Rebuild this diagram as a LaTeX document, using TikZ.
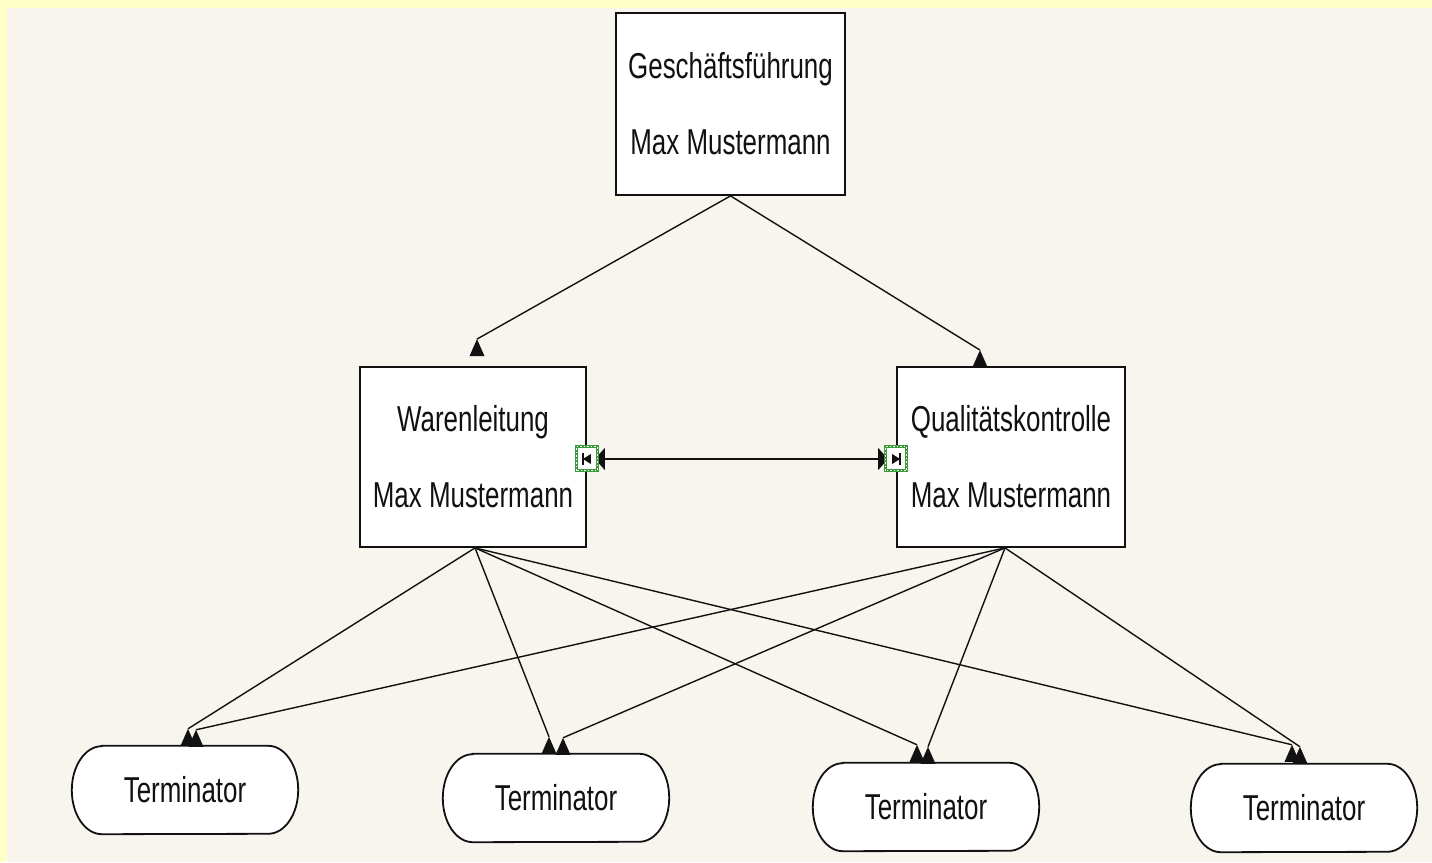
\documentclass[tikz,border=0pt]{standalone}
\usepackage{fontspec}
\setmainfont{Liberation Sans}[FakeStretch=0.72]
\usetikzlibrary{arrows.meta}
\definecolor{frameyellow}{HTML}{FFFFC8}
\definecolor{canvas}{HTML}{F8F5EF}
\definecolor{markgreen}{HTML}{3A9A3A}
\definecolor{ink}{HTML}{111111}
\newcommand\uptip[1]{\fill[ink] (#1) -- ++(-7.5,-17) -- ++(15,0) -- cycle;}
\newcommand\termshape[1]{%
  \draw[termline] ([xshift=30pt]#1.north west) -- ([xshift=-30pt]#1.north east)
    arc[start angle=90,end angle=-90,x radius=30pt,y radius=44pt]
    -- ([xshift=30pt]#1.south west)
    arc[start angle=270,end angle=90,x radius=30pt,y radius=44pt] -- cycle;}
\newcommand\marker[2]{%
  \draw[markgreen,line width=3pt,fill=white] ([shift={(-10.5pt,-12pt)}]#1) rectangle ([shift={(10.5pt,12pt)}]#1);
  \draw[white,line width=1pt,dash pattern=on 1.5pt off 2pt] ([shift={(-10.5pt,-12pt)}]#1) rectangle ([shift={(10.5pt,12pt)}]#1);
  \fill[ink] ([xshift=#2*-4pt,yshift=-5pt]#1) -- ([xshift=#2*4pt]#1) -- ([xshift=#2*-4pt,yshift=5pt]#1) -- cycle;
  \draw[ink,line width=1.5pt] ([xshift=#2*4pt,yshift=-6pt]#1) -- ([xshift=#2*4pt,yshift=6pt]#1);}
\begin{document}
\begin{tikzpicture}[x=1pt,y=1pt,
  txt/.style={font=\fontsize{36}{76}\selectfont,text=ink,align=center},
  boxnode/.style={txt,draw=ink,fill=white,line width=1.8pt,inner sep=0pt,minimum height=180pt},
  termnode/.style={txt,inner sep=0pt,minimum width=226pt,minimum height=88pt},
  termline/.style={draw=ink,fill=white,line width=1.8pt},
  conn/.style={draw=ink,line width=1.4pt},
  duo/.style={draw=ink,line width=1.4pt,{Triangle[length=10pt,width=22pt]}-{Triangle[length=10pt,width=22pt]}}]
\useasboundingbox (0,0) rectangle (1432,862);
\fill[frameyellow] (0,0) rectangle (1432,862);
\fill[canvas] (7,0) rectangle (1432,854);

% boxes
\node[boxnode,minimum width=229pt,minimum height=182pt] (G) at (730.5,758) {Geschäftsführung\\Max Mustermann};
\node[boxnode,minimum width=226pt] (W) at (473,405) {Warenleitung\\Max Mustermann};
\node[boxnode,minimum width=228pt] (Q) at (1011,405) {Qualitätskontrolle\\Max Mustermann};

% terminators
\node[termnode] (T1) at (185,72) {};
\node[termnode] (T2) at (556,64) {};
\node[termnode] (T3) at (926,55) {};
\node[termnode] (T4) at (1304,54) {};
\termshape{T1}\termshape{T2}\termshape{T3}\termshape{T4}
\node[txt] (L1) at (T1) {Terminator};
\node[txt] (L2) at (T2) {Terminator};
\node[txt] (L3) at (T3) {Terminator};
\node[txt] (L4) at (T4) {Terminator};

% connection points
\coordinate (gs) at (G.south);
\coordinate (ws) at ([xshift=2pt]W.south);
\coordinate (qs) at ([xshift=-6pt]Q.south);
\coordinate (win) at ([xshift=4pt,yshift=27pt]W.north);
\coordinate (qin) at ([xshift=-31pt,yshift=16pt]Q.north);
\coordinate (w1) at ([xshift=3pt,yshift=17pt]T1.north);
\coordinate (q1) at ([xshift=11pt,yshift=16pt]T1.north);
\coordinate (w2) at ([xshift=-7pt,yshift=17pt]T2.north);
\coordinate (q2) at ([xshift=7pt,yshift=16pt]T2.north);
\coordinate (w3) at ([xshift=-9pt,yshift=18pt]T3.north);
\coordinate (q3) at ([xshift=2pt,yshift=16pt]T3.north);
\coordinate (w4) at ([xshift=-12pt,yshift=19pt]T4.north);
\coordinate (q4) at ([xshift=-4pt,yshift=17pt]T4.north);

% connectors
\draw[conn] (gs) -- (win); \uptip{win}
\draw[conn] (gs) -- (qin); \uptip{qin}
\foreach \t in {w1,w2,w3,w4}{\draw[conn] (ws) -- (\t); \uptip{\t}}
\foreach \t in {q1,q2,q3,q4}{\draw[conn] (qs) -- (\t); \uptip{\t}}

% double arrow with markers
\coordinate (wm) at ([yshift=-2pt]W.east);
\coordinate (qm) at ([yshift=-2pt]Q.west);
\draw[duo] ([xshift=8pt]wm) -- ([xshift=-8pt]qm);
\marker{wm}{-1}
\marker{qm}{1}
\end{tikzpicture}
\end{document}
